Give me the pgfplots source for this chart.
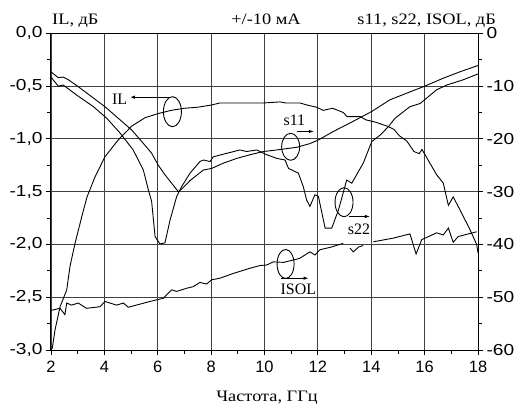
\documentclass[border=0pt]{standalone}
\usepackage{fontspec}
\setmainfont{Liberation Serif}
\newfontfamily\wideserif{Liberation Serif}[FakeStretch=1.15]
\newfontfamily\arial{Liberation Sans}
\newfontfamily\widearial{Liberation Sans}[FakeStretch=1.2]
\usepackage{pgfplots}
\pgfplotsset{compat=1.18}
\usetikzlibrary{arrows.meta}

\pgfplotsset{
  common/.style={
    scale only axis, width=427bp, height=316.7bp,
    xmin=2, xmax=18,
    tick align=outside,
    major tick length=5bp, minor tick length=3.5bp,
    every tick/.style={black, line width=0.8bp},
    axis line style={line width=1bp},
    xticklabel style={font=\arial\fontsize{16.5}{16.5}\selectfont, yshift=-3bp},
    yticklabel style={font=\widearial\fontsize{16}{16}\selectfont},
    /pgf/number format/assume math mode=true,
  },
  curve/.style={black, line width=0.9bp, no marks},
}

\begin{document}
\begin{tikzpicture}
\useasboundingbox (-51bp,-56bp) rectangle (465bp,350bp);

% left axis: IL
\begin{axis}[common,
  ymin=-3, ymax=0,
  xtick={2,4,...,18}, minor xtick={3,5,...,17},
  ytick={-3,-2.5,-2,-1.5,-1,-0.5,0},
  minor ytick={-2.75,-2.25,-1.75,-1.25,-0.75,-0.25},
  xtick pos=bottom, ytick pos=left,
  grid=major, major grid style={black!75, line width=0.9bp},
  yticklabel style={/pgf/number format/.cd, fixed, fixed zerofill, precision=1, use comma},
]
\addplot[curve] coordinates {
 (2.0,-3.00) (2.05,-2.98) (2.15,-2.81) (2.34,-2.59) (2.59,-2.43) (2.71,-2.21)
 (2.90,-1.99) (3.15,-1.74) (3.35,-1.55) (3.65,-1.36) (4.02,-1.17) (4.52,-1.01)
 (5.02,-0.88) (5.52,-0.80) (6.02,-0.76) (6.5,-0.73) (7.0,-0.71) (7.5,-0.70)
 (8.0,-0.68) (8.33,-0.66) (8.96,-0.66) (9.95,-0.66) (10.58,-0.65) (10.8,-0.66)
 (11.33,-0.66) (11.6,-0.68) (11.95,-0.70) (12.2,-0.73) (12.55,-0.71) (12.95,-0.75)
 (13.1,-0.79) (13.6,-0.79) (13.8,-0.82) (14.14,-0.84) (14.6,-0.88) (14.85,-0.91)
 (15.05,-0.97) (15.33,-1.02) (15.6,-1.12) (15.8,-1.14) (15.9,-1.10) (16.45,-1.34)
 (16.70,-1.42) (16.89,-1.63) (17.07,-1.55) (17.32,-1.67) (17.7,-1.86) (17.95,-2.0) (18,-2.08)
};
\draw[black, line width=0.8bp] (axis cs:3,0) -- ++(0,-3.5bp) (axis cs:5,0) -- ++(0,-3.5bp)
  (axis cs:7,0) -- ++(0,-3.5bp) (axis cs:9,0) -- ++(0,-3.5bp) (axis cs:11,0) -- ++(0,-3.5bp)
  (axis cs:13,0) -- ++(0,-3.5bp) (axis cs:15,0) -- ++(0,-3.5bp) (axis cs:17,0) -- ++(0,-3.5bp);
\end{axis}

% right axis: s11, s22, ISOL
\begin{axis}[common,
  ymin=-60, ymax=0,
  axis y line*=right, hide x axis,
  ytick={-60,-50,...,0}, minor ytick={-55,-45,...,-5},
  clip=false, unbounded coords=jump,
]
\addplot[curve] coordinates {% s11
 (2.0,-7.3) (2.27,-8.4) (2.46,-8.3) (2.65,-8.8) (3.02,-10.1) (3.52,-12.0) (4.02,-13.9)
 (4.52,-16.1) (5.02,-18.3) (5.40,-20.5) (5.77,-22.7) (6.02,-25.0) (6.27,-26.8) (6.52,-28.4)
 (6.77,-30.0) (6.9,-29.5) (7.21,-27.9) (7.71,-25.9) (8.02,-25.6) (8.46,-24.6) (8.96,-23.7)
 (9.46,-23.0) (9.96,-22.4) (10.46,-22.1) (11.2,-21.6) (11.7,-20.9) (12.02,-20.2) (12.58,-18.6)
 (13.2,-17.0) (14.02,-14.8) (14.70,-12.6) (15.45,-11.1) (16.01,-10.0) (16.70,-8.5) (17.32,-7.3) (18,-6.1)
};
\addplot[curve] coordinates {% s22
 (2.0,-8.3) (2.27,-10.0) (2.46,-9.8) (2.96,-11.7) (3.59,-13.9) (4.09,-16.1) (4.59,-18.9)
 (5.08,-22.1) (5.46,-25.9) (5.65,-29.7) (5.77,-31.8) (5.9,-38.5) (6.08,-39.9) (6.27,-39.7)
 (6.46,-35.4) (6.71,-30.9) (6.9,-29.0) (7.21,-26.5) (7.58,-24.3) (7.71,-24.0) (7.96,-24.3)
 (8.08,-23.4) (8.46,-22.9) (9.08,-22.1) (9.33,-22.4) (9.71,-22.1) (10.08,-23.0) (10.46,-23.7)
 (10.77,-24.0) (10.9,-25.6) (11.27,-26.5) (11.45,-29.0) (11.58,-31.6) (11.7,-32.8) (11.89,-30.6)
 (12.02,-30.9) (12.27,-36.9) (12.52,-36.9) (12.77,-33.5) (13.08,-27.8) (13.27,-28.4) (13.7,-24.6)
 (14.02,-20.5) (14.33,-19.3) (14.64,-17.7) (14.89,-16.1) (15.45,-13.9) (15.83,-13.3) (16.45,-10.7)
 (16.83,-9.8) (17.45,-8.8) (18,-7.7)
};
\addplot[curve] coordinates {% ISOL
 (2.0,-52.5) (2.34,-52.1) (2.52,-53.3) (2.59,-51.1) (2.77,-51.5) (3.02,-51.1) (3.33,-52.1)
 (3.84,-51.8) (4.02,-50.8) (4.46,-51.5) (4.71,-51.1) (4.9,-51.9) (5.71,-50.8) (6.21,-50.2)
 (6.52,-48.6) (6.71,-48.9) (7.08,-48.3) (7.33,-48.0) (7.58,-47.2) (7.83,-47.5) (8.02,-46.7)
 (8.33,-46.4) (8.83,-45.5) (9.46,-44.5) (9.83,-44.0) (10.08,-43.9) (10.33,-43.3) (10.71,-43.4)
 (11.2,-42.8) (11.33,-42.6) (11.7,-41.4) (11.89,-42.0) (12.08,-41.0) (12.5,-40.5) (12.95,-39.8)
 (13.05,nan)
 (13.2,-40.7) (13.33,-41.4) (13.52,-40.5) (13.7,-40.2)
 (13.9,nan)
 (14.08,-39.5) (14.83,-38.8) (15.45,-38.0) (15.68,-41.8) (15.89,-39.1) (16.45,-37.8) (16.7,-38.2)
 (16.89,-36.9) (17.07,-39.6) (17.26,-38.5) (17.95,-37.6)
};
% annotations
\begin{scope}[line width=0.9bp, font=\fontsize{16}{16}\selectfont]
\draw (axis cs:6.55,-14.85) ellipse [x radius=9bp, y radius=15bp];
\draw[-{Latex[length=5bp,width=3.5bp]}] (axis cs:6.45,-12.1) -- (axis cs:4.96,-12.1);
\node at (axis cs:4.57,-12.5) {IL};
\draw (axis cs:10.98,-21.5) ellipse [x radius=9bp, y radius=13.5bp];
\draw[-{Latex[length=5bp,width=3.5bp]}] (axis cs:11.2,-18.6) -- (axis cs:11.85,-18.6);
\node at (axis cs:11.12,-16.4) {s11};
\draw (axis cs:12.98,-32.0) ellipse [x radius=9bp, y radius=14.5bp];
\draw[-{Latex[length=5bp,width=3.5bp]}] (axis cs:13.15,-34.7) -- (axis cs:13.95,-34.7);
\node at (axis cs:13.54,-37.2) {s22};
\draw (axis cs:10.79,-43.7) ellipse [x radius=8.5bp, y radius=14.5bp];
\draw[-{Latex[length=5bp,width=3.5bp]}] (axis cs:10.6,-46.4) -- (axis cs:11.65,-46.4);
\node at (axis cs:11.27,-48.5) {ISOL};
\end{scope}
\end{axis}

\begin{scope}[font=\wideserif\fontsize{16}{16}\selectfont]
\node[anchor=base west, inner sep=0pt] at (1bp,325bp) {IL, дБ};
\node[anchor=base, inner sep=0pt] at (215bp,325bp) {+/-10 мА};
\node[anchor=base east, inner sep=0pt] at (445bp,325bp) {s11, s22, ISOL, дБ};
\node[anchor=base, inner sep=0pt] at (216bp,-51bp) {Частота, ГГц};
\end{scope}
\end{tikzpicture}
\end{document}
